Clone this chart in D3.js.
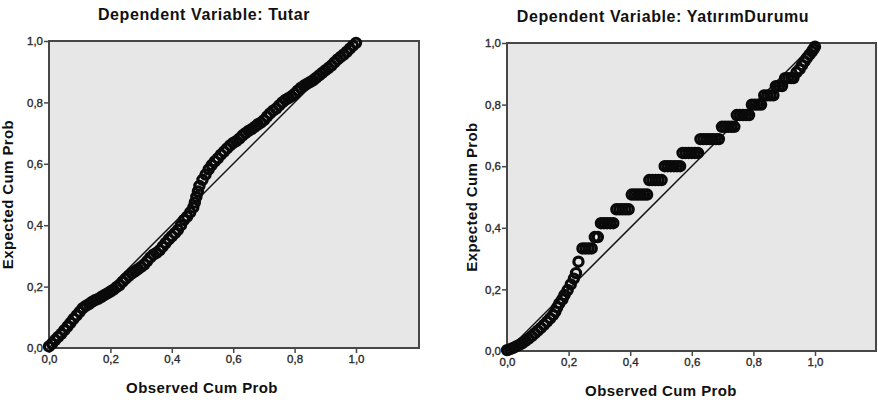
<!DOCTYPE html>
<html>
<head>
    <meta charset="utf-8">
    <title>Normal P-P Plots of Regression Residuals</title>
    <script src="https://d3js.org/d3.v7.min.js"></script>
    <style>
        body { margin: 0; background: #fff; }
        svg text { font-family: Arial, "Liberation Sans", sans-serif; }
    </style>
</head>
<body>
    <svg id="chart" width="878" height="402"></svg>

    <script>
        // tick labels and texts
        const tickValues = [0, 0.2, 0.4, 0.6, 0.8, 1.0];
        const titles = ["Dependent Variable: Tutar", "Dependent Variable: YatırımDurumu"];
        const xTitle = "Observed Cum Prob";
        const yTitle = "Expected Cum Prob";

        // left panel: Tutar
        const tutarObserved = [
            0.00, 0.01, 0.02, 0.03, 0.04, 0.05, 0.06, 0.07, 0.08, 0.09,
            0.10, 0.11, 0.12, 0.13, 0.14, 0.15, 0.16, 0.17, 0.18, 0.19,
            0.20, 0.21, 0.22, 0.23, 0.24, 0.25, 0.26, 0.27, 0.28, 0.29,
            0.30, 0.31, 0.32, 0.33, 0.34, 0.35, 0.36, 0.37, 0.38, 0.39,
            0.40, 0.41, 0.42, 0.43, 0.44, 0.45, 0.46, 0.47, 0.475, 0.48,
            0.485, 0.49, 0.50, 0.51, 0.52, 0.53, 0.54, 0.55, 0.56, 0.57,
            0.58, 0.59, 0.60, 0.61, 0.62, 0.63, 0.64, 0.65, 0.66, 0.67,
            0.68, 0.69, 0.70, 0.71, 0.72, 0.73, 0.74, 0.75, 0.76, 0.77,
            0.78, 0.79, 0.80, 0.81, 0.82, 0.83, 0.84, 0.85, 0.86, 0.87,
            0.88, 0.89, 0.90, 0.91, 0.92, 0.93, 0.94, 0.95, 0.96, 0.97,
            0.98, 0.99, 1.00
        ];
        const tutarExpected = [
            0.005, 0.014, 0.026, 0.036, 0.046, 0.058, 0.070, 0.082, 0.095, 0.106,
            0.118, 0.130, 0.137, 0.143, 0.150, 0.156, 0.160, 0.166, 0.172, 0.178,
            0.184, 0.190, 0.198, 0.205, 0.216, 0.226, 0.235, 0.243, 0.250, 0.257,
            0.264, 0.272, 0.283, 0.295, 0.304, 0.310, 0.318, 0.330, 0.342, 0.354,
            0.364, 0.374, 0.385, 0.400, 0.417, 0.428, 0.442, 0.458, 0.474, 0.492,
            0.510, 0.528, 0.548, 0.565, 0.582, 0.596, 0.608, 0.618, 0.630, 0.640,
            0.650, 0.660, 0.668, 0.674, 0.682, 0.692, 0.700, 0.707, 0.713, 0.720,
            0.728, 0.734, 0.742, 0.754, 0.764, 0.773, 0.780, 0.790, 0.800, 0.808,
            0.814, 0.820, 0.828, 0.838, 0.847, 0.854, 0.860, 0.866, 0.872, 0.880,
            0.888, 0.896, 0.904, 0.912, 0.920, 0.930, 0.940, 0.948, 0.956, 0.965,
            0.975, 0.985, 0.994
        ];

        // right panel: YatirimDurumu (tied values give the horizontal runs)
        const yatirimObserved = [
            0.000, 0.010, 0.020, 0.030, 0.040, 0.050, 0.060, 0.070, 0.080, 0.090,
            0.100, 0.110, 0.120, 0.130, 0.140, 0.150, 0.157, 0.163, 0.170, 0.180,
            0.187, 0.197, 0.207, 0.217, 0.224, 0.232,
            0.245, 0.255, 0.265, 0.275,
            0.285, 0.295,
            0.305, 0.315, 0.325, 0.335, 0.345,
            0.355, 0.365, 0.375, 0.385, 0.395,
            0.405, 0.415, 0.425, 0.435, 0.445, 0.455,
            0.462, 0.472, 0.482, 0.492, 0.502,
            0.512, 0.522, 0.532, 0.542, 0.552, 0.562,
            0.570, 0.580, 0.590, 0.600, 0.610, 0.620,
            0.628, 0.638, 0.648, 0.658, 0.668, 0.678, 0.688,
            0.698, 0.708, 0.718, 0.728, 0.738,
            0.746, 0.756, 0.766, 0.776, 0.786,
            0.795, 0.805, 0.815, 0.825,
            0.835, 0.845, 0.855, 0.865,
            0.873, 0.883, 0.893,
            0.903, 0.913, 0.923, 0.930,
            0.940, 0.950, 0.958, 0.966, 0.974, 0.982, 0.990, 0.995, 1.000
        ];
        const yatirimExpected = [
            0.003, 0.006, 0.010, 0.015, 0.020, 0.026, 0.033, 0.040, 0.048, 0.057,
            0.066, 0.075, 0.085, 0.095, 0.106, 0.117, 0.128, 0.142, 0.155, 0.168,
            0.182, 0.198, 0.216, 0.235, 0.253, 0.290,
            0.333, 0.333, 0.333, 0.333,
            0.370, 0.370,
            0.415, 0.415, 0.415, 0.415, 0.415,
            0.460, 0.460, 0.460, 0.460, 0.460,
            0.508, 0.508, 0.508, 0.508, 0.508, 0.508,
            0.555, 0.555, 0.555, 0.555, 0.555,
            0.600, 0.600, 0.600, 0.600, 0.600, 0.600,
            0.643, 0.643, 0.643, 0.643, 0.643, 0.643,
            0.688, 0.688, 0.688, 0.688, 0.688, 0.688, 0.688,
            0.728, 0.728, 0.728, 0.728, 0.728,
            0.766, 0.766, 0.766, 0.766, 0.766,
            0.800, 0.800, 0.800, 0.800,
            0.830, 0.830, 0.830, 0.830,
            0.860, 0.860, 0.860,
            0.886, 0.886, 0.886, 0.886,
            0.905, 0.915, 0.928, 0.940, 0.952, 0.962, 0.972, 0.980, 0.988
        ];

        const svg = d3.select("svg#chart");
        const fmt = d => d.toFixed(1).replace(".", ",");

        const panels = [
            { title: titles[0], obs: tutarObserved, exp: tutarExpected,
              left: 49, right: 419, top: 41, bottom: 348, oneX: 356,
              titleX: 204, titleY: 20, xTitleX: 202, xTitleY: 393, yTitleX: 13 },
            { title: titles[1], obs: yatirimObserved, exp: yatirimExpected,
              left: 507, right: 876, top: 43, bottom: 351, oneX: 815,
              titleX: 663, titleY: 22, xTitleX: 661, xTitleY: 396, yTitleX: 477 }
        ];

        panels.forEach(drawPanel);

        function drawPanel(p) {
            const x = d3.scaleLinear().domain([0, 1]).range([p.left, p.oneX]);
            const y = d3.scaleLinear().domain([0, 1]).range([p.bottom, p.top]);
            const g = svg.append("g");

            // plot background
            g.append("rect")
                .attr("x", p.left)
                .attr("y", p.top)
                .attr("width", p.right - p.left)
                .attr("height", p.bottom - p.top)
                .attr("fill", "#e7e7e7")
                .attr("stroke", "#474747")
                .attr("stroke-width", 2);

            // axes
            const xAxis = g.append("g")
                .attr("transform", "translate(0," + p.bottom + ")")
                .call(d3.axisBottom(x).tickValues(tickValues).tickFormat(fmt).tickSize(5).tickSizeOuter(0));
            const yAxis = g.append("g")
                .attr("transform", "translate(" + p.left + ",0)")
                .call(d3.axisLeft(y).tickValues(tickValues).tickFormat(fmt).tickSize(5).tickSizeOuter(0));
            [xAxis, yAxis].forEach(a => {
                a.select(".domain").remove();
                a.selectAll(".tick line").attr("stroke", "#474747").attr("stroke-width", 1.5);
                a.selectAll(".tick text")
                    .attr("fill", "#2a2a2a")
                    .attr("stroke", "#2a2a2a")
                    .attr("stroke-width", 0.35)
                    .style("font-size", "11.5px")
                    .style("font-family", "Arial, 'Liberation Sans', sans-serif");
            });
            xAxis.selectAll(".tick text").attr("dy", "0.6em").attr("y", 8);
            yAxis.selectAll(".tick text").attr("x", -6);

            // reference diagonal
            g.append("line")
                .attr("x1", x(0)).attr("y1", y(0))
                .attr("x2", x(1)).attr("y2", y(1))
                .attr("stroke", "#111")
                .attr("stroke-width", 1.5);

            // points
            const pts = p.obs.map((o, i) => ({ o: o, e: p.exp[i] }));
            g.selectAll("circle.pt")
                .data(pts)
                .join("circle")
                .attr("class", "pt")
                .attr("cx", d => x(d.o))
                .attr("cy", d => y(d.e))
                .attr("r", 4.6)
                .attr("fill", "none")
                .attr("stroke", "#0a0a0a")
                .attr("stroke-width", 3.2);

            const bold = sel => sel
                .style("font-weight", "bold")
                .style("fill", "#111")
                .attr("text-anchor", "middle");

            // titles
            g.append("text")
                .attr("x", p.titleX)
                .attr("y", p.titleY)
                .style("font-size", "16px")
                .style("letter-spacing", "0.6px")
                .call(bold)
                .text(p.title);

            g.append("text")
                .attr("x", p.xTitleX)
                .attr("y", p.xTitleY)
                .style("font-size", "15px")
                .style("letter-spacing", "0.4px")
                .call(bold)
                .text(xTitle);

            g.append("text")
                .attr("transform", "translate(" + p.yTitleX + "," + ((p.top + p.bottom) / 2) + ") rotate(-90)")
                .style("font-size", "15px")
                .style("letter-spacing", "0.4px")
                .call(bold)
                .text(yTitle);
        }
    </script>
</body>
</html>
